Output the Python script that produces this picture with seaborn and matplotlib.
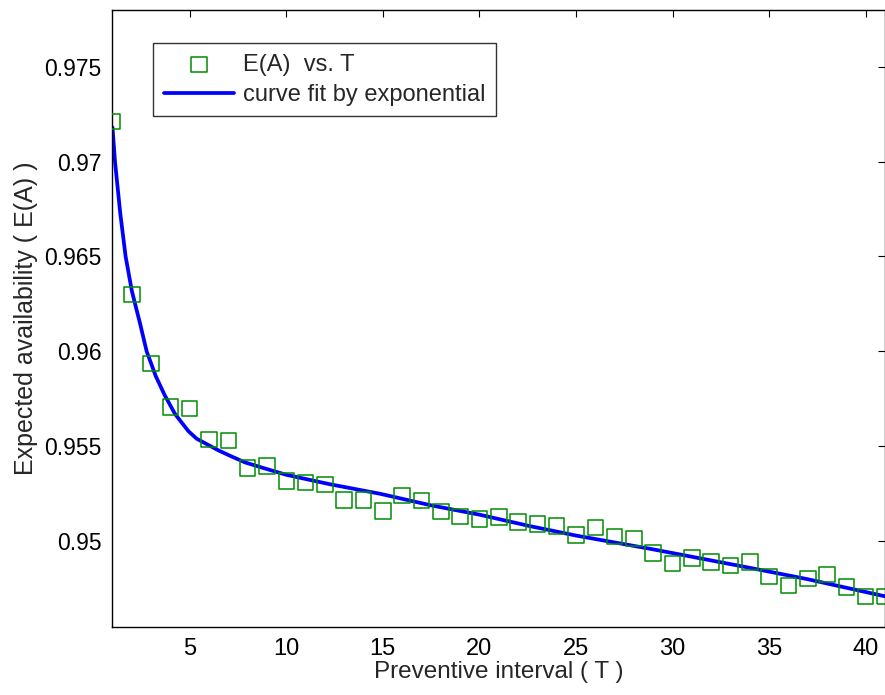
import matplotlib
matplotlib.use('agg')
import numpy as np
import pandas as pd
import seaborn as sns
import matplotlib.pyplot as plt

# measured points E(A) vs. T
T = list(range(1, 42))
EA = [0.9721, 0.9630, 0.95936, 0.95708, 0.95699, 0.95536, 0.9553, 0.95385,
      0.95395, 0.95318, 0.9531, 0.9530, 0.95216, 0.95216, 0.95158, 0.95242,
      0.95215, 0.95157, 0.95131, 0.95118, 0.95129, 0.95100, 0.9509, 0.95080,
      0.95034, 0.95072, 0.95025, 0.95014, 0.94939, 0.94882, 0.94911, 0.94892,
      0.94872, 0.94892, 0.94815, 0.94768, 0.94805, 0.94825, 0.9476, 0.9471,
      0.9471]

# exponential fit curve
fit_T = [1.0, 1.13, 1.4, 1.68, 2.0, 2.17, 2.42, 2.77, 3.24, 3.7, 4.24, 4.93,
         5.36, 6.0, 6.5, 7.09, 7.87, 9.0, 10.0, 12.27, 14.86, 17.45, 20.0,
         22.6, 25.0, 28.85, 30.4, 34.0, 37.0, 41.0]
fit_EA = [0.9718, 0.9700, 0.9673, 0.9650, 0.9632, 0.9625, 0.9615, 0.9600,
          0.9587, 0.9577, 0.9567, 0.9558, 0.9554, 0.95505, 0.95478, 0.9545,
          0.95415, 0.9538, 0.9535, 0.9530, 0.9525, 0.9519, 0.9514, 0.9508,
          0.9503, 0.9496, 0.9493, 0.9486, 0.9480, 0.9471]

yticks = [0.95, 0.955, 0.96, 0.965, 0.97, 0.975]
ytick_labels = ['0.95', '0.955', '0.96', '0.965', '0.97', '0.975']
xticks = [5, 10, 15, 20, 25, 30, 35, 40]

pts = pd.DataFrame({'T': T, 'EA': EA})
fit = pd.DataFrame({'T': fit_T, 'EA': fit_EA})

sns.set_style('white')
plt.rcParams['font.family'] = ['Liberation Sans', 'DejaVu Sans']

fig = plt.figure(figsize=(8.85, 6.95), dpi=100)
ax = fig.add_axes([0.1271, 0.0983, 0.8729, 0.8878])

sns.scatterplot(data=pts, x='T', y='EA', ax=ax, marker='s', s=125,
                facecolors='none', edgecolor=(0, 0.55, 0), linewidth=1.1,
                label='E(A)  vs. T', zorder=3)
sns.lineplot(data=fit, x='T', y='EA', ax=ax, color=(0, 0, 1), linewidth=2.7,
             label='curve fit by exponential', zorder=2)

ax.set_xlim(1, 41)
ax.set_ylim(0.9455, 0.978)
ax.set_xticks(xticks)
ax.set_yticks(yticks)
ax.set_yticklabels(ytick_labels)
ax.tick_params(axis='y', labelsize=16.5)
ax.tick_params(axis='x', labelsize=17)
ax.tick_params(direction='in', length=5, width=0.8, top=True, right=True,
               colors='black', pad=8)
for s in ax.spines.values():
    s.set_visible(True)
    s.set_color('black')
    s.set_linewidth(1.0)

ax.set_xlabel('Preventive interval ( T )', fontsize=17.5, labelpad=1)
ax.set_ylabel('Expected availability ( E(A) )', fontsize=18, labelpad=4)

leg = ax.legend(loc='upper left', bbox_to_anchor=(0.0525, 0.946),
                borderaxespad=0, fontsize=17, frameon=True, fancybox=False,
                edgecolor='black', handlelength=3.0, handletextpad=0.35,
                borderpad=0.45, labelspacing=0.35)
leg.get_frame().set_linewidth(1.0)

fig.savefig('out.png', dpi=100)
plt.close(fig)
